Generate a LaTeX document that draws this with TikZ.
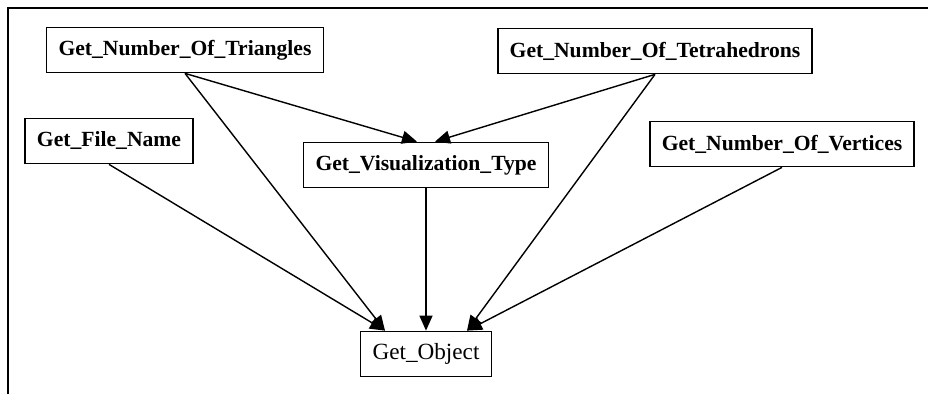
\documentclass[tikz,border=0pt]{standalone}
\usepackage{fontspec}
\setmainfont{Liberation Serif}
\usepackage{tikz}
\usetikzlibrary{arrows.meta}

\begin{document}
\begin{tikzpicture}[>={Triangle[length=3mm,width=2.6mm]},font=\fontsize{12.3}{14}\selectfont\bfseries,
  func/.style={draw,line width=1pt,minimum height=0.9cm,inner xsep=0.24cm,fill=white},
  call/.style={->,line width=0.8pt}]
\useasboundingbox (0,0) rectangle (18.56,7.88);
% frame (left and top only)
\draw[line width=1.4pt] (0.16,0) -- (0.16,7.72) -- (18.56,7.72);
% functions
\node[func] (tri) at (3.70,6.88) {Get\_Number\_Of\_Triangles};
\node[func] (tet) at (13.10,6.86) {Get\_Number\_Of\_Tetrahedrons};
\node[func] (file) at (2.18,5.06) {Get\_File\_Name};
\node[func] (vis) at (8.52,4.58) {Get\_Visualization\_Type};
\node[func] (vert) at (15.64,5.00) {Get\_Number\_Of\_Vertices};
\node[func,font=\fontsize{13.2}{15}\selectfont\mdseries] (obj) at (8.52,0.80) {Get\_Object};
% calls
\draw[call] (tri.south) -- ([xshift=-0.18cm]vis.north);
\draw[call] (tet.south) -- ([xshift=0.18cm]vis.north);
\draw[call] (tri.south) -- ([xshift=-0.82cm]obj.north);
\draw[call] (file.south) -- ([xshift=-0.82cm]obj.north);
\draw[call] (vis.south) -- (obj.north);
\draw[call] (tet.south) -- ([xshift=0.82cm]obj.north);
\draw[call] (vert.south) -- ([xshift=0.82cm]obj.north);
\end{tikzpicture}
\end{document}
